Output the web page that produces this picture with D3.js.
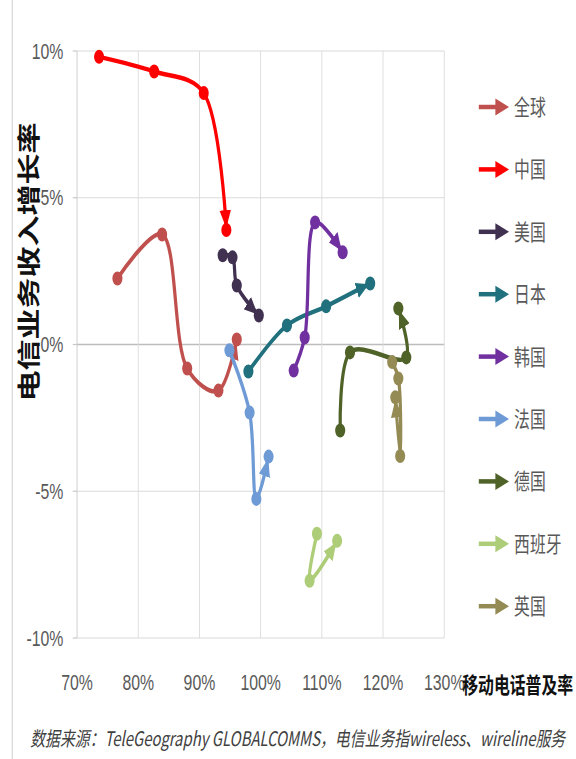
<!DOCTYPE html>
<html>
<head>
<meta charset="utf-8">
<script src="https://cdn.jsdelivr.net/npm/d3@7"></script>
<style>
  html, body { margin: 0; padding: 0; background: #fff; }
  svg { display: block; }
</style>
</head>
<body>
<div id="chart"></div>
<script>
// Mobile penetration vs telecom revenue growth, one path per country

const countries = ["全球", "中国", "美国", "日本", "韩国", "法国", "德国", "西班牙", "英国"];
const colors = ["#C0504D", "#FF0000", "#403151", "#20707E", "#7030A0", "#6E9BD6", "#4F6228", "#AECD78", "#948A54"];

// penetration (%) and revenue growth (%)
const globalPen = [76.6, 83.9, 88.0, 93.1, 96.1];
const globalGrowth = [2.25, 3.75, -0.82, -1.57, 0.17];
const chinaPen = [73.6, 82.6, 90.7, 94.4];
const chinaGrowth = [9.8, 9.3, 8.57, 3.9];
const usPen = [93.8, 95.4, 96.1, 99.7];
const usGrowth = [3.04, 2.97, 2.01, 0.99];
const japanPen = [98.0, 104.3, 110.7, 117.9];
const japanGrowth = [-0.92, 0.65, 1.3, 2.08];
const koreaPen = [105.4, 107.2, 108.9, 113.4];
const koreaGrowth = [-0.89, 0.24, 4.16, 3.14];
const francePen = [94.9, 98.2, 99.3, 101.3];
const franceGrowth = [-0.2, -2.32, -5.26, -3.82];
const germanyPen = [113.0, 114.6, 123.8, 122.5];
const germanyGrowth = [-2.93, -0.27, -0.44, 1.23];
const spainPen = [109.2, 108.0, 112.5];
const spainGrowth = [-6.45, -8.05, -6.69];
const ukPen = [121.5, 122.5, 122.8, 122.0];
const ukGrowth = [-0.6, -1.16, -3.8, -1.8];

const xTicks = [70, 80, 90, 100, 110, 120, 130];
const yTicks = [-10, -5, 0, 5, 10];

const penSeries = [globalPen, chinaPen, usPen, japanPen, koreaPen, francePen, germanyPen, spainPen, ukPen];
const growthSeries = [globalGrowth, chinaGrowth, usGrowth, japanGrowth, koreaGrowth, franceGrowth, germanyGrowth, spainGrowth, ukGrowth];

const series = countries.map((name, i) => ({
  name,
  color: colors[i],
  points: penSeries[i].map((p, j) => ({ x: p, y: growthSeries[i][j] })),
}));

// the picture is squeezed sideways, so draw on a wider canvas and squash it
const W = 800;
const H = 759;

const svg = d3
  .select("#chart")
  .append("svg")
  .attr("width", 576)
  .attr("height", H)
  .attr("viewBox", `0 0 ${W} ${H}`)
  .attr("preserveAspectRatio", "none");

const x = d3.scaleLinear().domain([70, 130]).range([107, 617]);
const y = d3.scaleLinear().domain([-10, 10]).range([638, 51]);

const cjk = "'Noto Sans CJK SC', 'Noto Sans', sans-serif";
const latin = "'Liberation Sans', 'Noto Sans CJK SC', sans-serif";

// frame line at the left
svg
  .append("line")
  .attr("x1", 17)
  .attr("x2", 17)
  .attr("y1", 0)
  .attr("y2", H)
  .attr("stroke", "#d4d4d4")
  .attr("stroke-width", 1.5);

// grid
const grid = svg.append("g");
grid
  .selectAll("line.h")
  .data(yTicks)
  .enter()
  .append("line")
  .attr("x1", x(70))
  .attr("x2", x(130))
  .attr("y1", (d) => y(d))
  .attr("y2", (d) => y(d))
  .attr("stroke", (d) => (d === 0 ? "#bdbdbd" : "#dadada"))
  .attr("stroke-width", (d) => (d === 0 ? 1.6 : 1.2));

grid
  .selectAll("line.v")
  .data(xTicks)
  .enter()
  .append("line")
  .attr("x1", (d) => x(d))
  .attr("x2", (d) => x(d))
  .attr("y1", y(10))
  .attr("y2", y(-10))
  .attr("stroke", (d) => (d === 70 ? "#c8c8c8" : "#dadada"))
  .attr("stroke-width", 1.2);

// y ticks
grid
  .selectAll("line.t")
  .data(yTicks)
  .enter()
  .append("line")
  .attr("x1", x(70) - 6)
  .attr("x2", x(70))
  .attr("y1", (d) => y(d))
  .attr("y2", (d) => y(d))
  .attr("stroke", "#c8c8c8")
  .attr("stroke-width", 1.2);

// tick labels
svg
  .append("g")
  .selectAll("text")
  .data(yTicks)
  .enter()
  .append("text")
  .attr("x", 88)
  .attr("y", (d) => y(d))
  .attr("dy", "0.35em")
  .attr("text-anchor", "end")
  .attr("font-family", latin)
  .attr("font-size", 22)
  .attr("fill", "#595959")
  .text((d) => d + "%");

svg
  .append("g")
  .selectAll("text")
  .data(xTicks)
  .enter()
  .append("text")
  .attr("x", (d) => x(d))
  .attr("y", 690)
  .attr("text-anchor", "middle")
  .attr("font-family", latin)
  .attr("font-size", 22)
  .attr("fill", "#595959")
  .text((d) => d + "%");

// axis titles
svg
  .append("text")
  .attr("transform", "translate(40,262) rotate(-90)")
  .attr("text-anchor", "middle")
  .attr("dy", "0.35em")
  .attr("font-family", cjk)
  .attr("font-weight", "bold")
  .attr("font-size", 31)
  .attr("fill", "#111")
  .text("电信业务收入增长率");

svg
  .append("text")
  .attr("x", 642)
  .attr("y", 693)
  .attr("font-family", cjk)
  .attr("font-weight", "bold")
  .attr("font-size", 22)
  .attr("textLength", 154)
  .attr("lengthAdjust", "spacingAndGlyphs")
  .attr("fill", "#111")
  .text("移动电话普及率");

// footnote
svg
  .append("text")
  .attr("x", 42)
  .attr("y", 746)
  .attr("font-family", cjk)
  .attr("font-style", "italic")
  .attr("font-size", 20)
  .attr("textLength", 743)
  .attr("lengthAdjust", "spacingAndGlyphs")
  .attr("fill", "#404040")
  .text("数据来源：TeleGeography GLOBALCOMMS，电信业务指wireless、wireline服务");

// arrowheads, one per colour
const defs = svg.append("defs");
series.forEach((s, i) => {
  defs
    .append("marker")
    .attr("id", "arrow" + i)
    .attr("viewBox", "0 -9 18 18")
    .attr("markerUnits", "userSpaceOnUse")
    .attr("markerWidth", 18)
    .attr("markerHeight", 18)
    .attr("refX", 20)
    .attr("refY", 0)
    .attr("orient", "auto")
    .append("path")
    .attr("d", "M0,-8L18,0L0,8Z")
    .attr("fill", s.color);
});

const line = d3
  .line()
  .x((d) => x(d.x))
  .y((d) => y(d.y))
  .curve(d3.curveCatmullRom.alpha(0.5));

const plot = svg.append("g");
series.forEach((s, i) => {
  const g = plot.append("g");
  g.append("path")
    .datum(s.points)
    .attr("d", line)
    .attr("fill", "none")
    .attr("stroke", s.color)
    .attr("stroke-width", 4.5)
    .attr("stroke-linejoin", "round")
    .attr("marker-end", `url(#arrow${i})`);
  g.selectAll("circle")
    .data(s.points)
    .enter()
    .append("circle")
    .attr("cx", (d) => x(d.x))
    .attr("cy", (d) => y(d.y))
    .attr("r", 7)
    .attr("fill", s.color);
});

// legend
const legend = svg
  .append("g")
  .selectAll("g")
  .data(series)
  .enter()
  .append("g")
  .attr("transform", (d, i) => `translate(0,${107 + i * 62.4})`);

legend
  .append("line")
  .attr("x1", 665)
  .attr("x2", 692)
  .attr("y1", 0)
  .attr("y2", 0)
  .attr("stroke", (d) => d.color)
  .attr("stroke-width", 4.5);

legend
  .append("path")
  .attr("d", "M688,-8.5L707,0L688,8.5Z")
  .attr("fill", (d) => d.color);

legend
  .append("text")
  .attr("x", 714)
  .attr("y", 0)
  .attr("dy", "0.36em")
  .attr("font-family", cjk)
  .attr("font-size", 22)
  .attr("fill", "#595959")
  .text((d) => d.name);
</script>
</body>
</html>
